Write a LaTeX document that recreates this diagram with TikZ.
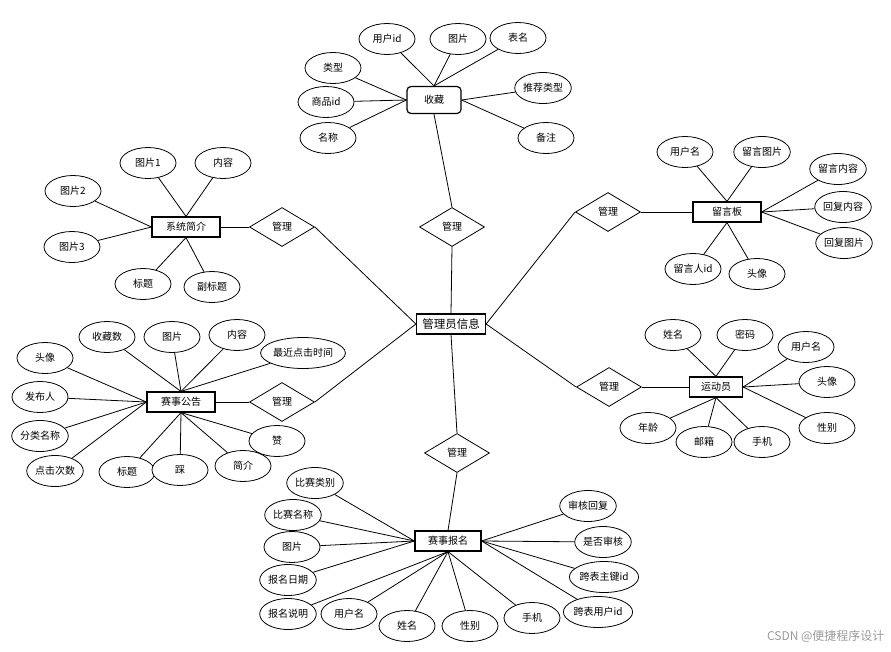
\documentclass[tikz,border=0pt]{standalone}
\usepackage{fontspec}
\usepackage{xcolor}
\usepackage{tikz}
\usetikzlibrary{shapes.geometric}
\newfontfamily\cjk{Noto Sans CJK SC}
\definecolor{markgray}{HTML}{9A9A9A}
\tikzset{
    erfont/.style={font=\cjk\fontsize{10}{12}\selectfont},
    attr/.style={ellipse, draw, fill=white, line width=0.8pt, erfont,
                 minimum width=56pt, minimum height=31pt, inner sep=0pt},
    entity/.style={rectangle, draw, fill=white, line width=1.2pt, erfont,
                   minimum width=68pt, minimum height=20pt},
    rel/.style={diamond, draw, fill=white, line width=0.8pt, erfont,
                minimum width=65pt, minimum height=39pt, inner sep=0pt},
    link/.style={line width=0.8pt}
}

\begin{document}
\begin{tikzpicture}[x=1pt, y=-1pt]
    \useasboundingbox (0,0) rectangle (891,651);

    % entities
    \node[entity, rounded corners=4pt, minimum width=54pt, minimum height=27pt] (fav) at (434,100) {收藏};
    \node[entity, minimum width=69pt, inner xsep=3pt, font=\cjk\fontsize{11.5}{13}\selectfont] (admin) at (451,324) {管理员信息};
    \node[entity] (intro) at (186,227) {系统简介};
    \node[entity] (board) at (727,212) {留言板};
    \node[entity] (notice) at (181,402) {赛事公告};
    \node[entity, minimum width=53pt] (athlete) at (716,387) {运动员};
    \node[entity, minimum width=66pt] (signup) at (448,541) {赛事报名};

    % relations
    \node[rel] (mfav) at (452,227) {管理};
    \node[rel] (mintro) at (282,227) {管理};
    \node[rel] (mboard) at (608,212) {管理};
    \node[rel] (mnotice) at (282,402) {管理};
    \node[rel] (mathlete) at (609,387) {管理};
    \node[rel] (msignup) at (457,453) {管理};

    \draw[link] (fav.south) -- (mfav.north);
    \draw[link] (mfav.south) -- (admin.north);
    \draw[link] (intro.east) -- (mintro.west);
    \draw[link] (mintro.east) -- (admin.west);
    \draw[link] (notice.east) -- (mnotice.west);
    \draw[link] (mnotice.east) -- (admin.west);
    \draw[link] (admin.east) -- (mboard.west);
    \draw[link] (mboard.east) -- (board.west);
    \draw[link] (admin.east) -- (mathlete.west);
    \draw[link] (mathlete.east) -- (athlete.west);
    \draw[link] (admin.south) -- (msignup.north);
    \draw[link] (msignup.south) -- (signup.north);

    % 收藏
    \node[attr] (favuid) at (387,39) {用户id};
    \node[attr] (favpic) at (458,39) {图片};
    \node[attr] (favtab) at (518,38) {表名};
    \node[attr] (favtype) at (333,68) {类型};
    \node[attr] (favgid) at (326,102) {商品id};
    \node[attr] (favname) at (328,138) {名称};
    \node[attr] (favrec) at (543,88) {推荐类型};
    \node[attr] (favnote) at (546,138) {备注};
    \foreach \a in {favuid, favpic, favtab}
        \draw[link] (\a) -- (fav.north);
    \foreach \a in {favtype, favgid, favname}
        \draw[link] (\a) -- (fav.west);
    \foreach \a in {favrec, favnote}
        \draw[link] (\a) -- (fav.east);

    % 系统简介
    \node[attr] (inpic1) at (148,163) {图片1};
    \node[attr] (intext) at (223,163) {内容};
    \node[attr] (inpic2) at (73,191) {图片2};
    \node[attr] (inpic3) at (72,247) {图片3};
    \node[attr] (intitle) at (143,284) {标题};
    \node[attr] (insub) at (212,287) {副标题};
    \foreach \a in {inpic1, intext}
        \draw[link] (\a) -- (intro.north);
    \foreach \a in {inpic2, inpic3}
        \draw[link] (\a) -- (intro.west);
    \foreach \a in {intitle, insub}
        \draw[link] (\a) -- (intro.south);

    % 留言板
    \node[attr] (bduser) at (685,152) {用户名};
    \node[attr] (bdpic) at (762,152) {留言图片};
    \node[attr] (bdtext) at (838,169) {留言内容};
    \node[attr] (bdreply) at (843,207) {回复内容};
    \node[attr] (bdrpic) at (844,243) {回复图片};
    \node[attr] (bdwho) at (693,269) {留言人id};
    \node[attr] (bdhead) at (757,274) {头像};
    \foreach \a in {bduser, bdpic}
        \draw[link] (\a) -- (board.north);
    \foreach \a in {bdtext, bdreply, bdrpic}
        \draw[link] (\a) -- (board.east);
    \foreach \a in {bdwho, bdhead}
        \draw[link] (\a) -- (board.south);

    % 赛事公告
    \node[attr] (ntfav) at (107,337) {收藏数};
    \node[attr] (ntpic) at (172,337) {图片};
    \node[attr] (nttext) at (237,335) {内容};
    \node[attr, minimum width=84pt] (ntlast) at (303,353) {最近点击时间};
    \node[attr] (nthead) at (45,358) {头像};
    \node[attr] (ntpub) at (40,397) {发布人};
    \node[attr] (ntcat) at (40,436) {分类名称};
    \node[attr] (nthits) at (55,471) {点击次数};
    \node[attr] (nttitle) at (127,472) {标题};
    \node[attr] (ntdown) at (180,470) {踩};
    \node[attr] (ntbrief) at (243,466) {简介};
    \node[attr] (ntup) at (277,441) {赞};
    \foreach \a in {ntfav, ntpic, nttext, ntlast}
        \draw[link] (\a) -- (notice.north);
    \foreach \a in {nthead, ntpub, ntcat, nthits}
        \draw[link] (\a) -- (notice.west);
    \foreach \a in {nttitle, ntdown, ntbrief, ntup}
        \draw[link] (\a) -- (notice.south);

    % 运动员
    \node[attr] (atname) at (673,335) {姓名};
    \node[attr] (atpwd) at (745,335) {密码};
    \node[attr] (atuser) at (806,347) {用户名};
    \node[attr] (athead) at (827,382) {头像};
    \node[attr] (atsex) at (827,428) {性别};
    \node[attr] (atage) at (648,428) {年龄};
    \node[attr] (atmail) at (704,442) {邮箱};
    \node[attr] (atphone) at (762,442) {手机};
    \foreach \a in {atname, atpwd}
        \draw[link] (\a) -- (athlete.north);
    \foreach \a in {atuser, athead, atsex}
        \draw[link] (\a) -- (athlete.east);
    \foreach \a in {atage, atmail, atphone}
        \draw[link] (\a) -- (athlete.south);

    % 赛事报名
    \node[attr] (sgcat) at (315,483) {比赛类别};
    \node[attr] (sgname) at (293,515) {比赛名称};
    \node[attr] (sgpic) at (292,547) {图片};
    \node[attr] (sgdate) at (288,580) {报名日期};
    \node[attr] (sgnote) at (288,614) {报名说明};
    \node[attr] (sguser) at (349,614) {用户名};
    \node[attr] (sgreal) at (407,626) {姓名};
    \node[attr] (sgsex) at (470,626) {性别};
    \node[attr] (sgphone) at (532,618) {手机};
    \node[attr] (sgreply) at (588,506) {审核回复};
    \node[attr] (sgcheck) at (603,542) {是否审核};
    \node[attr] (sgrefid) at (604,577) {跨表主键id};
    \node[attr] (sguid) at (598,612) {跨表用户id};
    \foreach \a in {sgcat, sgname, sgpic, sgdate}
        \draw[link] (\a) -- (signup.west);
    \foreach \a in {sgnote, sguser, sgreal, sgsex, sgphone}
        \draw[link] (\a) -- (signup.south);
    \foreach \a in {sgreply, sgcheck, sgrefid, sguid}
        \draw[link] (\a) -- (signup.east);

    \node[anchor=east, text=markgray, font=\cjk\fontsize{12}{14}\selectfont] (mark) at (888,636) {CSDN @便捷程序设计};
\end{tikzpicture}
\end{document}
